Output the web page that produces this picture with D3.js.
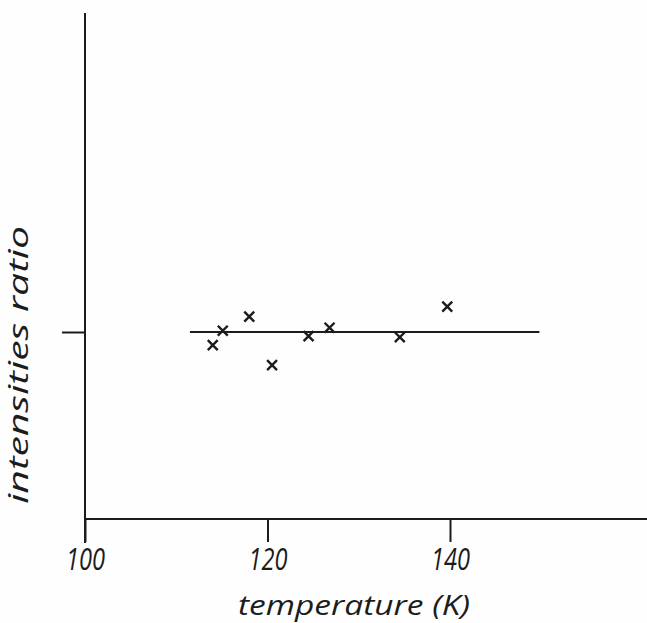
<!DOCTYPE html>
<html>
<head>
<meta charset="utf-8">
<script src="https://cdn.jsdelivr.net/npm/d3@7"></script>
<style>
	body { margin: 0; background: #fefefe; }
	text { font-family: "Open Sans", "DejaVu Sans", sans-serif; font-style: italic; font-weight: 400; fill: #1c1c1c; }
</style>
</head>
<body>
<svg id="chart"></svg>
<script>
// measured points (temperature in K, relative intensity ratio)
const temps = [114.0, 115.1, 118.0, 120.5, 124.5, 126.8, 134.5, 139.7];
const ratios = [0.93, 1.007, 1.082, 0.823, 0.978, 1.023, 0.972, 1.136];
const fitLine = [[111.5, 1.0], [149.8, 1.0]];
const xTicks = [100, 120, 140];
const yTicks = [1.0];

const width = 647;
const height = 623;
const ink = "#1c1c1c";

const svg = d3.select("#chart")
	.attr("width", width)
	.attr("height", height);

const x = d3.scaleLinear().domain([100, 140]).range([85, 450]);
const y = d3.scaleLinear().domain([0, 1]).range([519, 332]);

// axes lines, drawn by hand like the original plot
svg.append("line")
	.attr("x1", x(100)).attr("x2", width)
	.attr("y1", y(0)).attr("y2", y(0))
	.attr("stroke", ink).attr("stroke-width", 2);

svg.append("line")
	.attr("x1", x(100)).attr("x2", x(100))
	.attr("y1", 13).attr("y2", 543)
	.attr("stroke", ink).attr("stroke-width", 2);

const xAxis = svg.append("g")
	.attr("transform", `translate(0, ${y(0)})`)
	.call(d3.axisBottom(x).tickValues(xTicks).tickSize(23).tickSizeOuter(0).tickFormat(d3.format("d")));
xAxis.select(".domain").remove();
xAxis.selectAll(".tick line").attr("stroke", ink).attr("stroke-width", 2);
xAxis.selectAll(".tick text")
	.attr("y", 51)
	.attr("dy", 0)
	.attr("font-size", 31)
	.attr("textLength", 39)
	.attr("lengthAdjust", "spacingAndGlyphs");

const yAxis = svg.append("g")
	.attr("transform", `translate(${x(100)}, 0)`)
	.call(d3.axisLeft(y).tickValues(yTicks).tickSize(23).tickSizeOuter(0).tickFormat(""));
yAxis.select(".domain").remove();
yAxis.selectAll(".tick line").attr("stroke", ink).attr("stroke-width", 2);

// horizontal reference line
svg.append("path")
	.datum(fitLine)
	.attr("d", d3.line().x(d => x(d[0])).y(d => y(d[1])))
	.attr("stroke", ink)
	.attr("stroke-width", 2)
	.attr("fill", "none");

// crosses
const cross = d3.symbol().type(d3.symbolX).size(66);
svg.selectAll(".pt")
	.data(d3.zip(temps, ratios))
	.enter()
	.append("path")
	.attr("class", "pt")
	.attr("transform", d => `translate(${x(d[0])}, ${y(d[1])})`)
	.attr("d", cross)
	.attr("fill", "none")
	.attr("stroke", ink)
	.attr("stroke-width", 2.4);

// axis titles
svg.append("text")
	.attr("x", 238)
	.attr("y", 615)
	.attr("font-size", 28)
	.attr("textLength", 232)
	.attr("lengthAdjust", "spacingAndGlyphs")
	.text("temperature (K)");

svg.append("text")
	.attr("transform", "translate(28, 365) rotate(-90)")
	.attr("text-anchor", "middle")
	.attr("font-size", 27)
	.attr("textLength", 278)
	.attr("lengthAdjust", "spacingAndGlyphs")
	.text("intensities ratio");
</script>
</body>
</html>
